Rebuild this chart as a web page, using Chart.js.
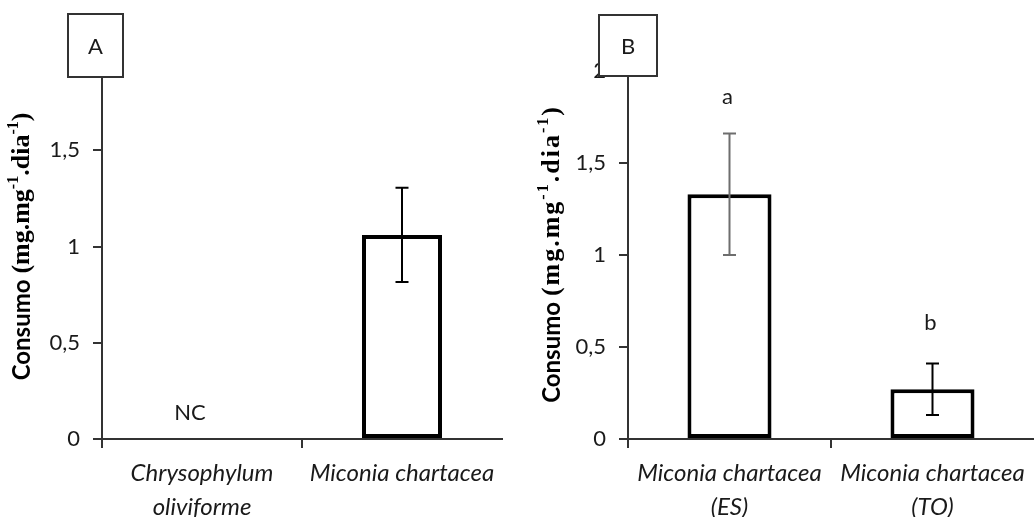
<!DOCTYPE html>
<html>
<head>
<meta charset="utf-8">
<script src="https://cdn.jsdelivr.net/npm/chart.js@4"></script>
<style>
  body { margin: 0; background: #fff; }
  .panel { position: absolute; top: 0; width: 517px; height: 517px; }
</style>
</head>
<body>
<div class="panel" style="left:0"><canvas id="chartA" width="517" height="517"></canvas></div>
<div class="panel" style="left:517px"><canvas id="chartB" width="517" height="517"></canvas></div>
<script>
// Panel A - consumo por espécie
const labelsA = [['Chrysophylum', 'oliviforme'], 'Miconia chartacea'];
const meansA = [null, 1.06];
const errorsA = [null, 0.245];
const notesA = ['NC', ''];
const noteValuesA = [0.135, null];

// Panel B - Miconia chartacea por local
const labelsB = [['Miconia chartacea', '(ES)'], ['Miconia chartacea', '(TO)']];
const meansB = [1.33, 0.27];
const errorsB = [0.33, 0.14];
const notesB = ['a', 'b'];
const noteValuesB = [1.86, 0.63];

// eixo y
const yTicks = ['0', '0,5', '1', '1,5', '2'];

const axisColor = '#333';
const textColor = '#1a1a1a';

// draws error bars, letters over the bars, the panel box and the y title
const extrasPlugin = {
    id: 'extras',
    afterDatasetsDraw(chart, args, opts) {
        const ctx = chart.ctx;
        const x = chart.scales.x;
        const y = chart.scales.y;
        const values = chart.data.datasets[0].data;

        opts.errors.forEach((e, i) => {
            if (e == null) return;
            const px = x.getPixelForValue(i);
            const top = y.getPixelForValue(values[i] + e);
            const bot = y.getPixelForValue(values[i] - e);
            ctx.save();
            ctx.strokeStyle = opts.errorColors[i];
            ctx.lineWidth = 2;
            ctx.beginPath();
            ctx.moveTo(px, top); ctx.lineTo(px, bot);
            ctx.moveTo(px - 6.5, top); ctx.lineTo(px + 6.5, top);
            ctx.moveTo(px - 6.5, bot); ctx.lineTo(px + 6.5, bot);
            ctx.stroke();
            ctx.restore();
        });

        ctx.save();
        ctx.fillStyle = textColor;
        ctx.font = '22px Lato';
        ctx.textAlign = 'center';
        ctx.textBaseline = 'middle';
        opts.notes.forEach((n, i) => {
            if (!n) return;
            ctx.fillText(n, x.getPixelForValue(i) + opts.noteShift, y.getPixelForValue(opts.noteValues[i]));
        });
        ctx.restore();
    },
    afterDraw(chart, args, opts) {
        const ctx = chart.ctx;
        const area = chart.chartArea;

        // panel letter box
        const bx = area.left + opts.boxOffset;
        ctx.save();
        ctx.fillStyle = '#fff';
        ctx.fillRect(bx, opts.boxTop, opts.boxWidth, opts.boxHeight);
        ctx.strokeStyle = axisColor;
        ctx.lineWidth = 2;
        ctx.strokeRect(bx, opts.boxTop, opts.boxWidth, opts.boxHeight);
        ctx.fillStyle = textColor;
        ctx.font = '22px Lato';
        ctx.textAlign = 'center';
        ctx.textBaseline = 'middle';
        ctx.fillText(opts.letter, bx + opts.boxWidth / 2, opts.boxTop + opts.boxHeight / 2 + 1);
        ctx.restore();

        // y title with superscripts
        const serif = 'bold ' + opts.serifSize + 'px "Liberation Serif"';
        const sup = 'bold ' + Math.round(opts.serifSize * 0.6) + 'px "Liberation Serif"';
        const parts = [
            { t: 'Consumo ', f: 'bold 24px Lato', dy: 0, ls: 0 },
            { t: '(mg.mg', f: serif, dy: 0, ls: opts.serifSpacing },
            { t: '-1', f: sup, dy: -8, ls: opts.serifSpacing },
            { t: '.dia', f: serif, dy: 0, ls: opts.serifSpacing },
            { t: '-1', f: sup, dy: -8, ls: opts.serifSpacing },
            { t: ')', f: serif, dy: 0, ls: 0 }
        ];
        ctx.save();
        let total = 0;
        parts.forEach(p => {
            ctx.font = p.f;
            ctx.letterSpacing = p.ls + 'px';
            p.w = ctx.measureText(p.t).width;
            total += p.w;
        });
        ctx.translate(opts.titleX, (area.top + area.bottom) / 2);
        ctx.rotate(-Math.PI / 2);
        ctx.fillStyle = '#000';
        ctx.textBaseline = 'middle';
        ctx.textAlign = 'left';
        let cx = -total / 2;
        parts.forEach(p => {
            ctx.font = p.f;
            ctx.letterSpacing = p.ls + 'px';
            ctx.fillText(p.t, cx, p.dy);
            cx += p.w;
        });
        ctx.restore();
    }
};

function makePanel(canvasId, labels, means, extras, padding, axisWidth, barPct) {
    const canvas = document.getElementById(canvasId);
    return new Chart(canvas.getContext('2d'), {
        type: 'bar',
        data: {
            labels: labels,
            datasets: [{
                data: means,
                backgroundColor: '#fff',
                borderColor: '#000',
                borderWidth: 4,
                borderSkipped: false,
                barPercentage: barPct,
                categoryPercentage: 1
            }]
        },
        options: {
            responsive: false,
            animation: false,
            layout: { padding: padding },
            plugins: {
                legend: { display: false },
                tooltip: { enabled: false },
                extras: extras
            },
            scales: {
                x: {
                    offset: true,
                    grid: {
                        offset: true,
                        drawOnChartArea: false,
                        tickLength: 9,
                        lineWidth: 2,
                        color: c => c.type === 'tick' ? axisColor : 'rgba(0,0,0,0)'
                    },
                    border: { display: true, color: axisColor, width: 2 },
                    ticks: {
                        color: textColor,
                        font: { family: 'Lato', size: 24, style: 'italic', lineHeight: 34 / 24 },
                        padding: 8,
                        maxRotation: 0,
                        autoSkip: false
                    },
                    afterFit: s => { s.height = 78; }
                },
                y: {
                    min: 0,
                    max: 2,
                    grid: { drawOnChartArea: false, tickLength: 9, lineWidth: 2, color: axisColor },
                    border: { display: true, color: axisColor, width: 2 },
                    ticks: {
                        stepSize: 0.5,
                        padding: 13,
                        color: textColor,
                        font: { family: 'Lato', size: 22 },
                        callback: (v, i) => yTicks[i]
                    },
                    afterFit: s => { s.width = axisWidth; }
                }
            }
        },
        plugins: [extrasPlugin]
    });
}

makePanel('chartA', labelsA, meansA, {
    errors: errorsA,
    errorColors: ['#000', '#000'],
    notes: notesA,
    noteValues: noteValuesA,
    noteShift: -12,
    letter: 'A',
    boxOffset: -34, boxTop: 14, boxWidth: 55, boxHeight: 63,
    titleX: 22, serifSize: 26, serifSpacing: 0
}, { top: 54, right: 15, bottom: 0, left: 0 }, 102, 0.4);

makePanel('chartB', labelsB, meansB, {
    errors: errorsB,
    errorColors: ['#6e6e6e', '#000'],
    notes: notesB,
    noteValues: noteValuesB,
    noteShift: -2,
    letter: 'B',
    boxOffset: -29, boxTop: 15, boxWidth: 58, boxHeight: 61,
    titleX: 35, serifSize: 26, serifSpacing: 2
}, { top: 71, right: 0, bottom: 0, left: 0 }, 111, 0.414);
</script>
</body>
</html>
